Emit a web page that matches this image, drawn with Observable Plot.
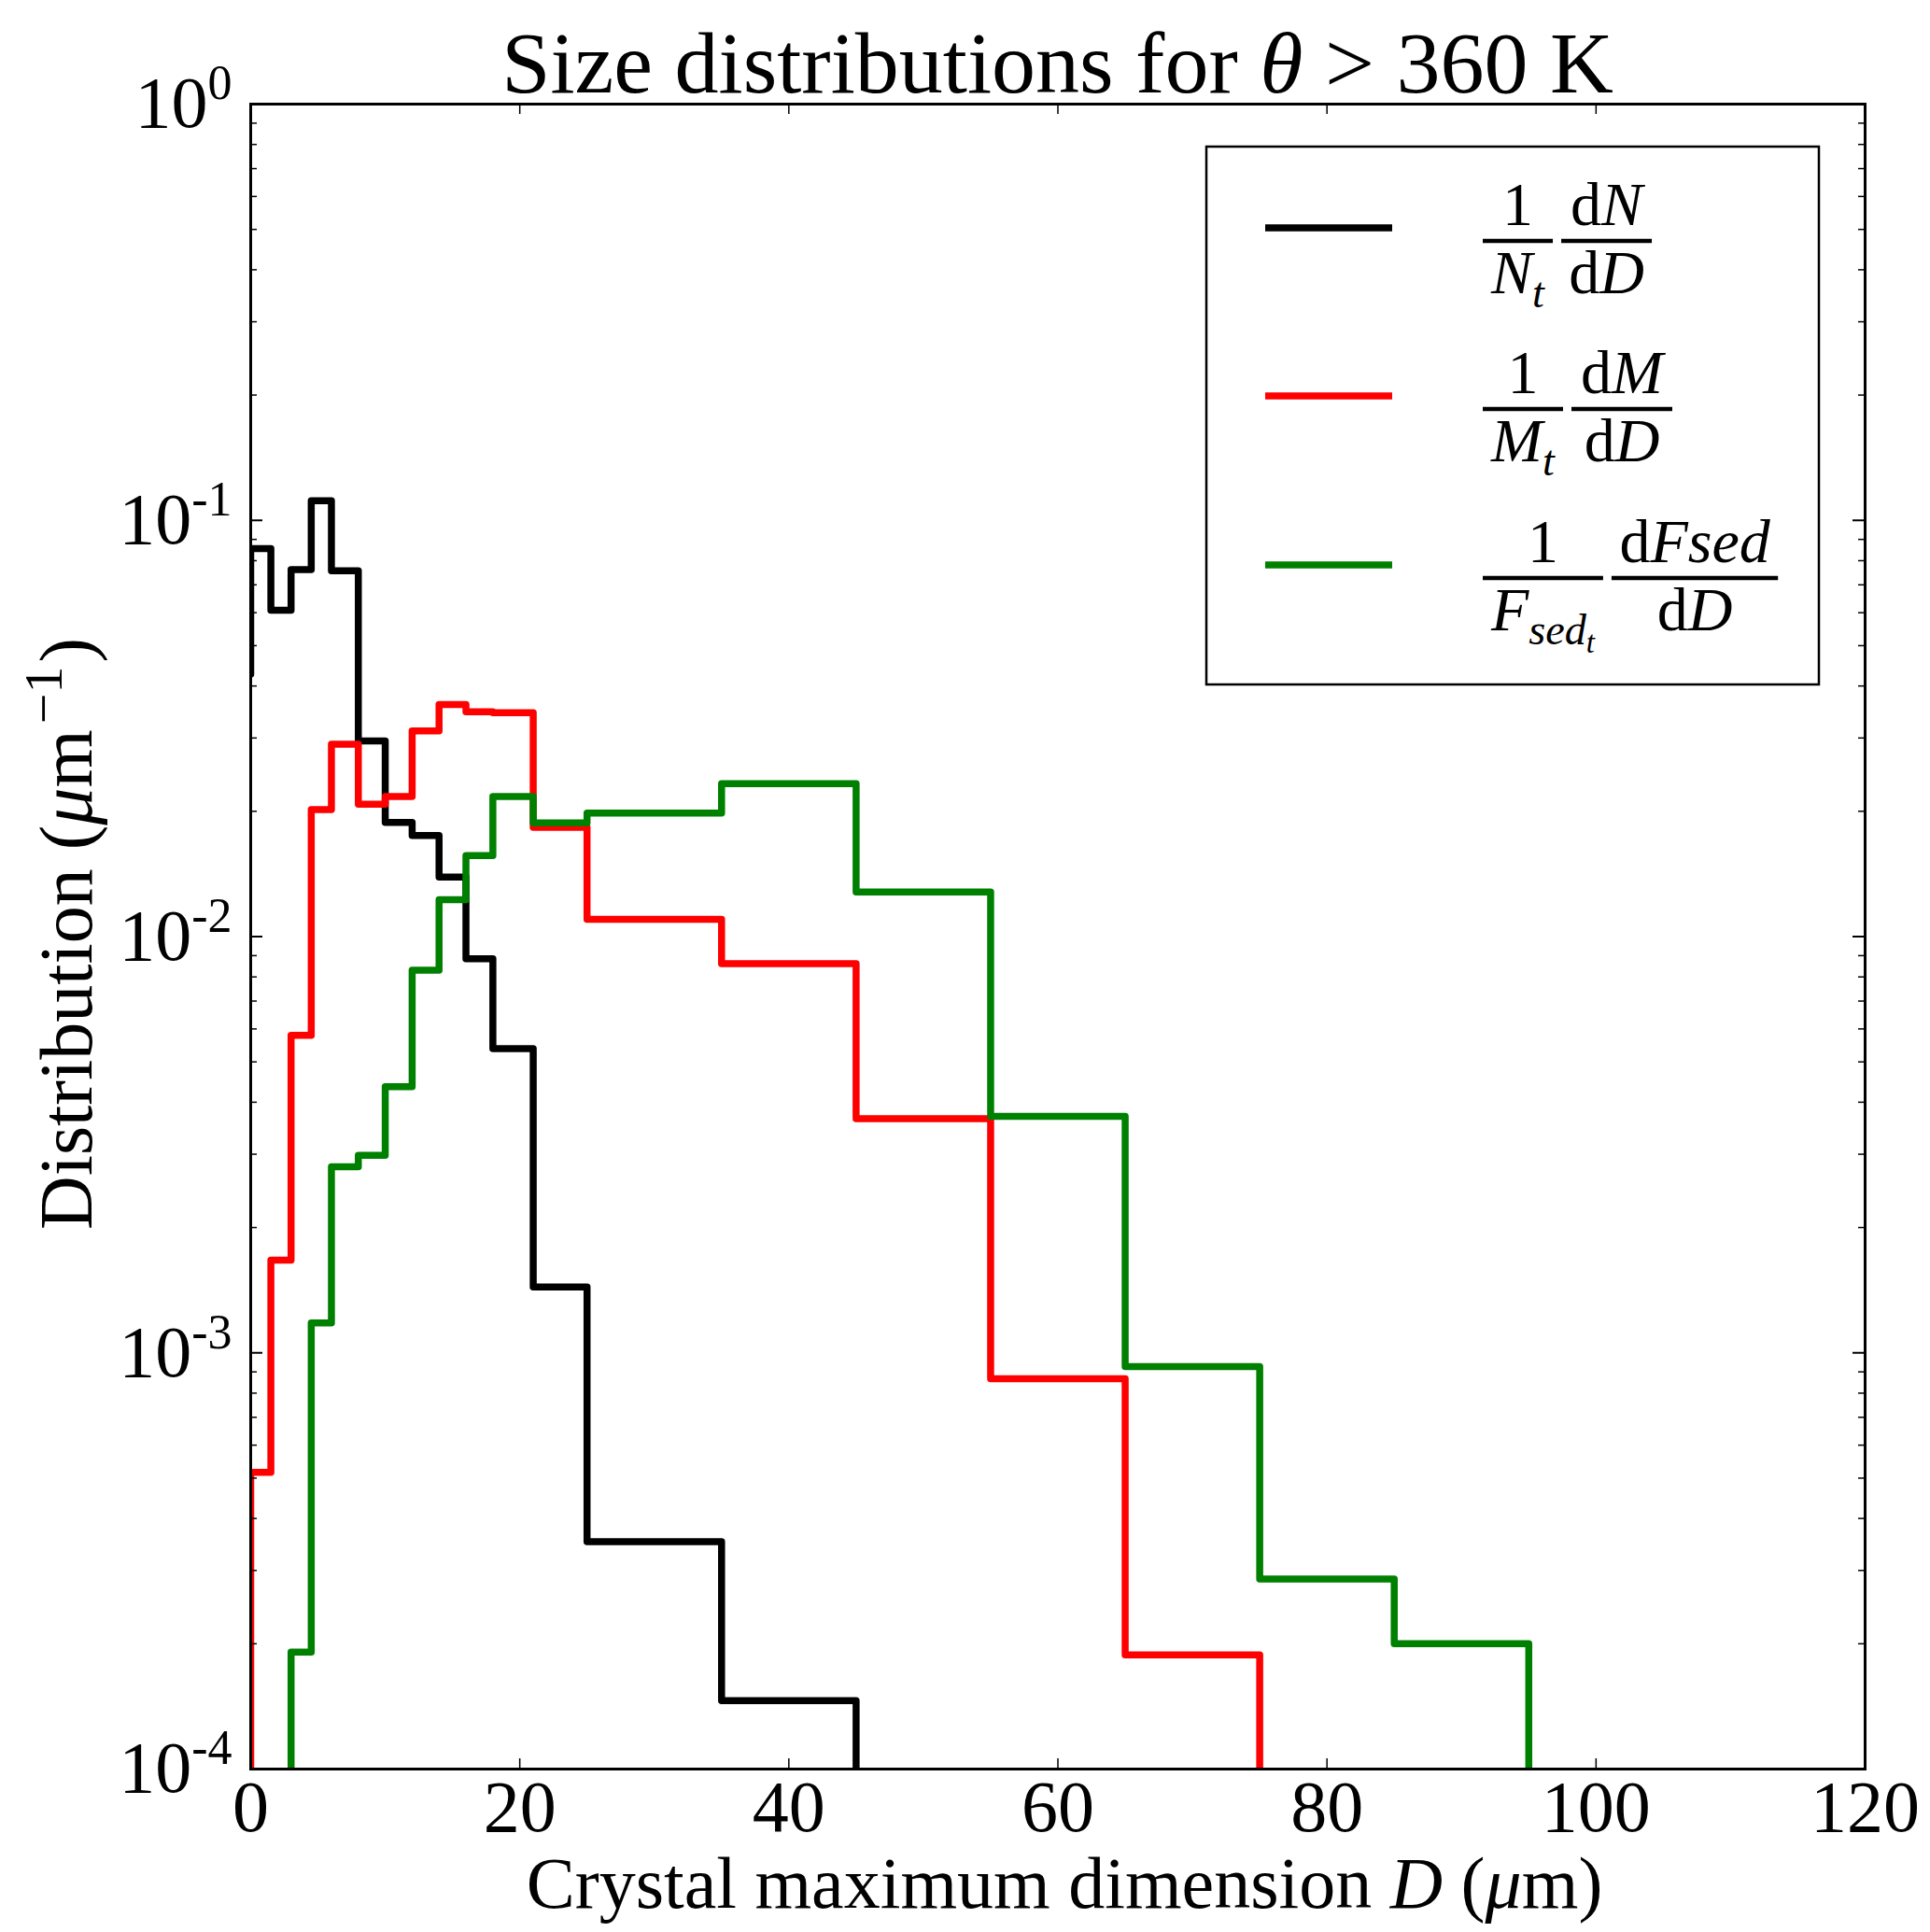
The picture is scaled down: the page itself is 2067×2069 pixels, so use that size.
<!DOCTYPE html>
<html>
<head>
<meta charset="utf-8">
<script src="https://cdn.jsdelivr.net/npm/d3@7"></script>
<script src="https://cdn.jsdelivr.net/npm/@observablehq/plot@0.6"></script>
<style>
  body { margin: 0; background: #fff; overflow: hidden; }
  #chart svg { display: block; }
</style>
</head>
<body>
<div id="chart"></div>
<script>
// bin edges of the size histogram (um)
const edges = [0, 1.5, 3, 4.5, 6, 8, 10, 12, 14, 16, 18, 21, 25, 35, 45, 55, 65, 75, 85, 95]
// normalised distributions per bin (um^-1), 0 = empty bin
const numberDist = [0.0855, 0.0608, 0.0761, 0.1115, 0.0757, 0.0295, 0.0188, 0.0175, 0.0139, 0.00885,
  0.00538, 0.00144, 0.000352, 0.000146, 0, 0, 0, 0, 0]
const massDist = [0.000516, 0.00167, 0.00579, 0.0202, 0.0290, 0.0208, 0.0217, 0.0312, 0.0361, 0.0347,
  0.0345, 0.0183, 0.0110, 0.00861, 0.00365, 0.000867, 0.000188, 0, 0]
const sedDist = [0, 0, 0.000191, 0.00118, 0.00280, 0.00298, 0.00436, 0.00830, 0.01227, 0.01566,
  0.0217, 0.01876, 0.0198, 0.0233, 0.0128, 0.00370, 0.000927, 0.000286, 0.000200]
// value where each step line starts at D = 0
const startValues = [0.0427, 0, 0]

const xTicks = [0, 20, 40, 60, 80, 100, 120]
const yMajor = [1e-4, 1e-3, 1e-2, 1e-1, 1]
const yMinorMult = [2, 3, 4, 5, 6, 7, 8, 9]

const W = 2067, H = 2069
const mL = 268, mR = 70, mT = 111, mB = 175
const plotW = W - mL - mR, plotH = H - mT - mB
const FLOOR = 1e-7   // empty bins drawn below the axis and clipped
const FONT = '"Liberation Serif", "Times New Roman", serif'
const LW = 7.5

function stepPoints(vals, start) {
  const pts = [{x: edges[0], y: start || FLOOR}]
  vals.forEach((v, i) => pts.push({x: edges[i], y: v || FLOOR}))
  pts.push({x: edges[edges.length - 1], y: FLOOR})
  return pts
}

const yMinor = []
yMajor.slice(0, -1).forEach(p => yMinorMult.forEach(m => yMinor.push(m * p)))

const series = [
  {vals: numberDist, start: startValues[0], color: '#000000'},
  {vals: massDist, start: startValues[1], color: '#ff0000'},
  {vals: sedDist, start: startValues[2], color: '#008000'},
]

let chart = Plot.plot({
  width: W,
  height: H,
  marginLeft: mL, marginRight: mR, marginTop: mT, marginBottom: mB,
  style: {fontFamily: FONT, fontSize: '78px', background: 'white', color: 'black'},
  x: {domain: [0, 120]},
  y: {type: 'log', domain: [1e-4, 1]},
  marks: [
    ...series.map(s => Plot.line(stepPoints(s.vals, s.start), {
      x: 'x', y: 'y', curve: 'step-after', stroke: s.color,
      strokeWidth: LW, strokeLinejoin: 'round', clip: true
    })),
    // inward ticks on all four sides
    Plot.ruleY(yMajor, {y: d => d, insetRight: plotW - 13, stroke: 'black', strokeWidth: 2}),
    Plot.ruleY(yMajor, {y: d => d, insetLeft: plotW - 13, stroke: 'black', strokeWidth: 2}),
    Plot.ruleY(yMinor, {y: d => d, insetRight: plotW - 7, stroke: 'black', strokeWidth: 1.5}),
    Plot.ruleY(yMinor, {y: d => d, insetLeft: plotW - 7, stroke: 'black', strokeWidth: 1.5}),
    Plot.ruleX(xTicks, {x: d => d, insetTop: plotH - 11, stroke: 'black', strokeWidth: 1.5}),
    Plot.ruleX(xTicks, {x: d => d, insetBottom: plotH - 11, stroke: 'black', strokeWidth: 1.5}),
    Plot.frame({stroke: 'black', strokeWidth: 3}),
    Plot.axisX(xTicks, {anchor: 'bottom', tickSize: 0, tickPadding: 11, label: null, fontSize: 78}),
    Plot.axisY(yMajor, {anchor: 'left', tickSize: 0, tickPadding: 20, label: null, fontSize: 78,
      tickFormat: d => '10^' + Math.round(Math.log10(d))}),
  ]
})

d3.select('#chart').append(() => chart)

const svg = d3.select(chart)

// power-of-ten tick labels with superscripts
svg.selectAll('g[aria-label="y-axis tick label"] text').each(function () {
  const [base, exp] = this.textContent.split('^')
  const t = d3.select(this)
  t.text(base)
  t.append('tspan').attr('font-size', 52).attr('dy', -30).text(exp)
})

// title and axis labels
const title = svg.append('text').attr('x', mL + plotW / 2).attr('y', 99)
  .attr('text-anchor', 'middle').attr('font-size', 94)
title.append('tspan').text('Size distributions for ')
title.append('tspan').attr('font-style', 'italic').text('θ')
title.append('tspan').text(' > 360 K')

const xl = svg.append('text').attr('x', 1140).attr('y', 2043)
  .attr('text-anchor', 'middle').attr('font-size', 78)
xl.append('tspan').text('Crystal maximum dimension ')
xl.append('tspan').attr('font-style', 'italic').text('D')
xl.append('tspan').text(' (')
xl.append('tspan').attr('font-style', 'italic').text('μ')
xl.append('tspan').text('m)')

const yl = svg.append('text').attr('transform', 'translate(98,1000) rotate(-90)')
  .attr('text-anchor', 'middle').attr('font-size', 80)
yl.append('tspan').text('Distribution (')
yl.append('tspan').attr('font-style', 'italic').text('μ')
yl.append('tspan').text('m')
yl.append('tspan').attr('font-size', 58).attr('dx', 6).attr('dy', -32).text('−1')
yl.append('tspan').attr('dx', 4).attr('dy', 32).text(')')

// legend
const legendEntries = [
  {color: '#000000', lineY: 244,
    fracs: [[[['1']], [['N', 1], ['t', 1, 1]]], [[['d'], ['N', 1]], [['d'], ['D', 1]]]]},
  {color: '#ff0000', lineY: 424,
    fracs: [[[['1']], [['M', 1], ['t', 1, 1]]], [[['d'], ['M', 1]], [['d'], ['D', 1]]]]},
  {color: '#008000', lineY: 605,
    fracs: [[[['1']], [['F', 1], ['sed', 1, 1], ['t', 1, 2]]], [[['d'], ['Fsed', 1]], [['d'], ['D', 1]]]]},
]
const LF = 66
const lg = svg.append('g')
lg.append('rect').attr('x', 1292).attr('y', 157).attr('width', 656).attr('height', 576)
  .attr('fill', 'white').attr('stroke', 'black').attr('stroke-width', 2.5)

function mathText(parts, y) {
  const t = lg.append('text').attr('y', y).attr('font-size', LF).attr('text-anchor', 'middle')
  let level = 0
  parts.forEach(([s, it, sub]) => {
    sub = sub || 0
    const sp = t.append('tspan').text(s)
    if (it) sp.attr('font-style', 'italic')
    const size = sub === 0 ? LF : sub === 1 ? LF * 0.7 : LF * 0.5
    sp.attr('font-size', size)
    const offs = [0, 0.22 * LF, 0.36 * LF]
    sp.attr('dy', offs[sub] - offs[level])
    level = sub
  })
  return t
}

legendEntries.forEach(e => {
  lg.append('line').attr('x1', 1355).attr('x2', 1491).attr('y1', e.lineY).attr('y2', e.lineY)
    .attr('stroke', e.color).attr('stroke-width', LW)
  const barY = e.lineY + 14
  let x0 = 1588
  e.fracs.forEach(([num, den]) => {
    const tn = mathText(num, barY - 17)
    const td = mathText(den, barY + 56)
    const w = Math.max(tn.node().getBBox().width, td.node().getBBox().width) + 16
    tn.attr('x', x0 + w / 2)
    td.attr('x', x0 + w / 2)
    lg.append('line').attr('x1', x0).attr('x2', x0 + w).attr('y1', barY).attr('y2', barY)
      .attr('stroke', 'black').attr('stroke-width', 4.5)
    x0 += w + 9
  })
})
</script>
</body>
</html>
